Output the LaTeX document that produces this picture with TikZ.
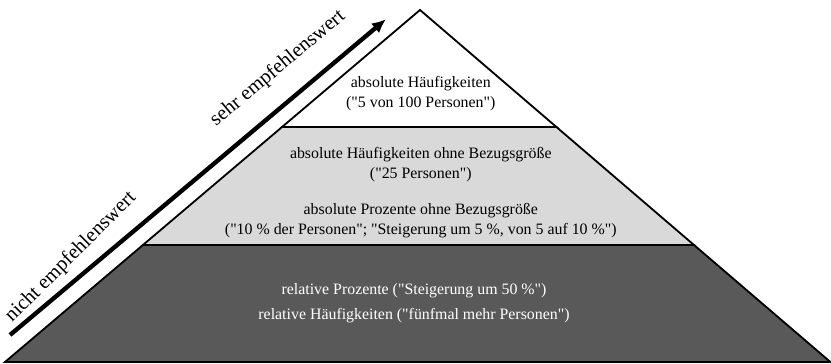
\documentclass[tikz,border=0pt]{standalone}
\usepackage{fontspec}
\setmainfont{Liberation Serif}[Ligatures=TeXOff]
\usetikzlibrary{calc,arrows.meta}

\definecolor{darklayer}{HTML}{595959}
\definecolor{lightlayer}{HTML}{D9D9D9}

\tikzset{
	layer/.style={draw=black, line width=1.3pt, line join=miter},
	txt/.style={align=center, inner sep=0pt, font=\fontsize{11.3}{14.2}\selectfont},
	sidelabel/.style={anchor=base west, inner sep=0pt, font=\fontsize{14.5}{16}\selectfont},
	bigarrow/.style={line width=3.1pt, -{Latex[length=10pt,width=9pt]}}
}

\begin{document}
\begin{tikzpicture}
		
		\useasboundingbox (0,0) rectangle (20.775,9.1);
		
		\coordinate (bl) at (0.125,0.05);
		\coordinate (br) at (20.76,0.05);
		\coordinate (top) at (10.5,8.85);
		\coordinate (l1) at ($(bl)!0.3324!(top)$);
		\coordinate (r1) at ($(br)!0.3324!(top)$);
		\coordinate (l2) at ($(bl)!0.6676!(top)$);
		\coordinate (r2) at ($(br)!0.6676!(top)$);
		
		\filldraw[layer, fill=darklayer] (bl) -- (br) -- (r1) -- (l1) -- cycle;
		\filldraw[layer, fill=lightlayer] (l1) -- (r1) -- (r2) -- (l2) -- cycle;
		\filldraw[layer, fill=white] (l2) -- (r2) -- (top) -- cycle;
		
		
		\node[txt] (absh) at (10.52,6.76) {absolute Häufigkeiten\\("5 von 100 Personen")};
		\node[txt] (abshb) at (10.52,4.975) {absolute Häufigkeiten ohne Bezugsgröße\\("25 Personen")};
		\node[txt] (absp) at (10.52,3.575) {absolute Prozente ohne Bezugsgröße\\("10 \% der Personen"; "Steigerung um 5 \%, von 5 auf 10 \%")};
		\node[txt, text=white] (relp) at (10.35,1.825) {relative Prozente ("Steigerung um 50 \%")};
		\node[txt, text=white] (relh) at (10.35,1.2) {relative Häufigkeiten ("fünfmal mehr Personen")};
		
		
		\coordinate (from) at (0.25,0.725);
		\coordinate (to) at (9.65,8.62);
		\draw[bigarrow] (from) -- (to);
		
		\node[sidelabel, rotate=45] (nicht) at (0.3,1.02) {nicht empfehlenswert};
		\node[sidelabel, rotate=40] (sehr) at (5.4,5.925) {sehr empfehlenswert};
		
	\end{tikzpicture}
\end{document}
